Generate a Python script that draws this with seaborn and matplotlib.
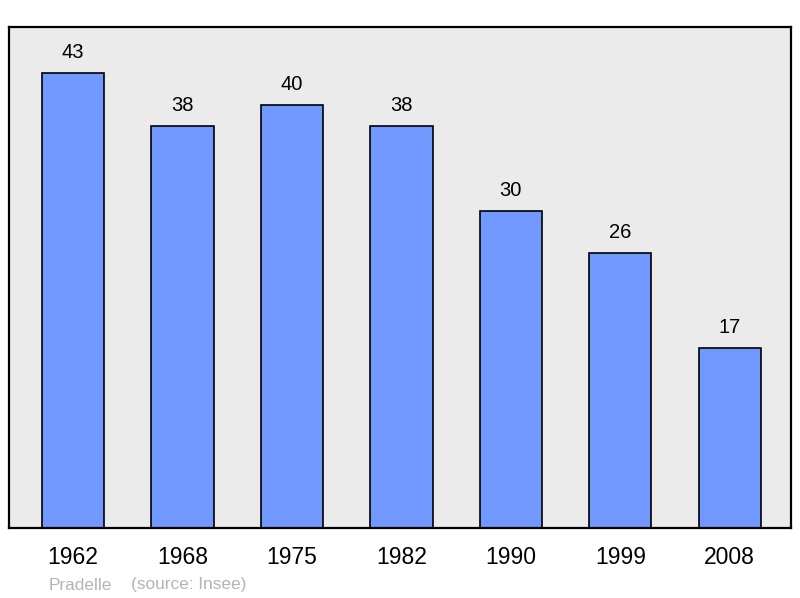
import pandas as pd
import matplotlib.pyplot as plt
import seaborn as sns

# Population data
years = ["1962", "1968", "1975", "1982", "1990", "1999", "2008"]
population = [43, 38, 40, 38, 30, 26, 17]

df = pd.DataFrame({"Year": years, "Population": population})

sns.set_style("white")
plt.rcParams["font.family"] = ["Liberation Sans", "DejaVu Sans"]
plt.rcParams["text.color"] = "black"
plt.rcParams["xtick.color"] = "black"

fig = plt.figure(figsize=(8, 5.98), dpi=100)
ax = fig.add_axes([9 / 800, 1 - 528 / 598, 782 / 800, 501 / 598])

sns.barplot(data=df, x="Year", y="Population", color="#7198ff", saturation=1,
            width=0.57, edgecolor="black", linewidth=1.2, ax=ax)

ax.set_facecolor("#ebebeb")
for spine in ax.spines.values():
    spine.set_color("black")
    spine.set_linewidth(1.6)

ax.set_xlim(-0.585, 6.56)
ax.set_ylim(0, 47.35)
ax.set_yticks([])
ax.set_xlabel("")
ax.set_ylabel("")
ax.tick_params(axis="x", length=0, labelsize=16.5, pad=13, labelcolor="black")

for i, v in enumerate(population):
    ax.annotate(str(v), (i, v), xytext=(0, 14.5), textcoords="offset points",
                ha="center", va="center", fontsize=14.5, color="black")

fig.text(49 / 800, 1 - 585 / 598, "Pradelle", color="#b4b4b4", fontsize=12.4, va="center")
fig.text(131 / 800, 1 - 585 / 598, "(source: Insee)", color="#b4b4b4", fontsize=12.4, va="center")

plt.savefig("out.png", dpi=100)
plt.close()
